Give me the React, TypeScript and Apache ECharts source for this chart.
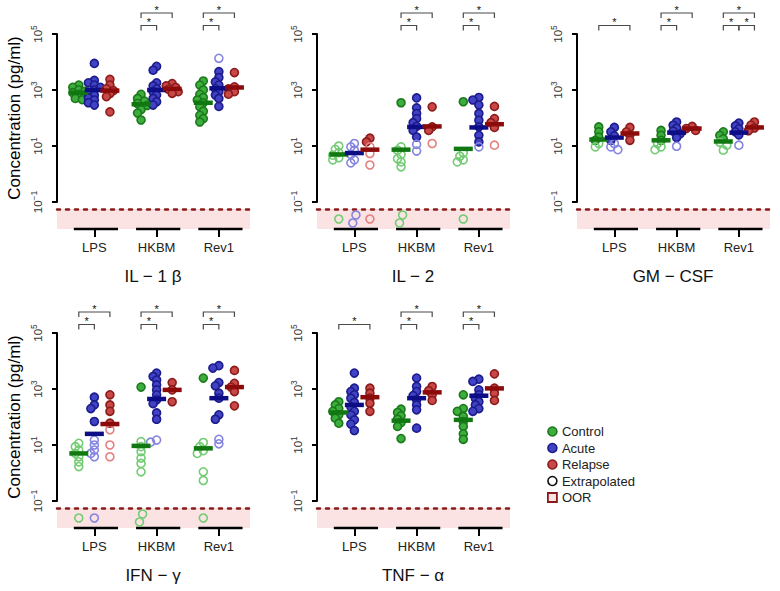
import React, { useEffect, useRef } from 'react';
import * as echarts from 'echarts';

// ---------- categories / labels ----------
const STIMULI = ['LPS', 'HKBM', 'Rev1'];
const GROUPS = ['Control', 'Acute', 'Relapse'];
const PANEL_TITLES = ['IL − 1 β', 'IL − 2', 'GM − CSF', 'IFN − γ', 'TNF − α'];
const Y_TICKS = [0.1, 10, 1000, 100000];
const Y_NAME = 'Concentration (pg/ml)';

// ---------- data (pg/ml), each array indexed by stimulus [LPS, HKBM, Rev1] ----------
// IL-1β
const IL1B_CONTROL = [[1500, 1250, 1000, 900, 800, 700, 650, 500, 450], [700, 500, 400, 330, 280, 200, 150, 85], [2100, 1500, 1000, 700, 540, 440, 350, 250, 175, 125, 95, 72]];
const IL1B_CONTROL_EXT = [[], [], []];
const IL1B_ACUTE = [[8900, 2200, 1800, 1500, 1250, 1000, 800, 650, 520, 440, 350, 290], [7000, 5100, 1800, 1400, 1100, 870, 660, 500, 380, 290], [4500, 2800, 1950, 1500, 1100, 870, 660, 500, 260]];
const IL1B_ACUTE_EXT = [[], [], [13500]];
const IL1B_RELAPSE = [[2400, 1500, 1100, 950, 750, 580, 165], [1700, 1400, 1230, 1050, 870, 760], [4200, 1300, 1100, 870, 710]];
const IL1B_RELAPSE_EXT = [[], [], []];
const IL1B_OOR = [[0, 0, 0], [0, 0, 0], [0, 0, 0]]; // [stim][group]
const IL1B_MEDIAN = [[800, 1000, 950], [310, 1000, 1100], [350, 1150, 1230]]; // [stim][group]
const IL1B_SIG = [[1, 0, 1, 0], [1, 0, 2, 1], [2, 0, 1, 0], [2, 0, 2, 1]]; // [stim, groupA, groupB, level]

// IL-2
const IL2_CONTROL = [[], [350], [380]];
const IL2_CONTROL_EXT = [[10, 7.6, 5.8, 4.7, 3.8, 3.2], [9.3, 7.1, 5, 3.5, 2.7, 1.8], [5.6, 4.3, 3.2, 2.7]];
const IL2_ACUTE = [[], [520, 230, 145, 95, 68, 50, 36, 21], [540, 440, 290, 145, 83, 48, 24, 14]];
const IL2_ACUTE_EXT = [[12.3, 9.3, 7.1, 5, 3.2, 2.5], [11.5, 6.6], [9.3]];
const IL2_RELAPSE = [[19, 14], [250, 48, 36], [260, 95, 68, 46]];
const IL2_RELAPSE_EXT = [[9.3, 5.4, 2.1], [12.3], [10.7]];
const IL2_OOR = [[1, 2, 1], [2, 0, 0], [1, 0, 0]];
const IL2_MEDIAN = [[5, 5.6, 7.4], [7.4, 48, 50], [7.9, 46, 60]];
const IL2_SIG = [[1, 0, 1, 0], [1, 0, 2, 1], [2, 0, 1, 0], [2, 0, 2, 1]];

// GM-CSF
const GMCSF_CONTROL = [[48, 32, 21, 16], [36, 24, 16], [32, 24, 18]];
const GMCSF_CONTROL_EXT = [[12.3, 9.3], [12.3, 9.3, 7.4], [13.5, 10.7, 7.1]];
const GMCSF_ACUTE = [[46, 32, 23, 16], [72, 55, 43, 34, 27, 20], [66, 52, 41, 32, 25]];
const GMCSF_ACUTE_EXT = [[12.3, 9.3, 7.4], [9.8], [10.7]];
const GMCSF_RELAPSE = [[46, 32, 25, 16], [50, 42, 36], [72, 56, 44, 35]];
const GMCSF_RELAPSE_EXT = [[], [], []];
const GMCSF_OOR = [[0, 0, 0], [0, 0, 0], [0, 0, 0]];
const GMCSF_MEDIAN = [[17, 20, 28], [16, 30, 42], [14.5, 30, 46]];
const GMCSF_SIG = [[0, 0, 2, 0], [1, 0, 1, 0], [1, 0, 2, 1], [2, 0, 1, 0], [2, 1, 2, 0], [2, 0, 2, 1]];

// IFN-γ
const IFNG_CONTROL = [[], [1170], [2450]];
const IFNG_CONTROL_EXT = [[11.5, 8.7, 6.6, 5, 3.8, 2.5, 1.7], [13.2, 8.7, 5.8, 3.4, 2.2, 1.1], [12.3, 8.7, 6.3, 5, 1.1, 0.54]];
const IFNG_ACUTE = [[510, 270, 200, 69], [3700, 2800, 2100, 1400, 930, 620, 410, 300, 140, 83], [6800, 5600, 1700, 1300, 710, 470, 120, 83]];
const IFNG_ACUTE_EXT = [[15, 10, 6.6, 5, 3.8], [15, 12.6], [16, 11]];
const IFNG_RELAPSE = [[620, 270, 160, 60], [1700, 930, 350], [4600, 1600, 1170, 810, 250]];
const IFNG_RELAPSE_EXT = [[35, 10, 3.8], [], []];
const IFNG_OOR = [[1, 1, 0], [2, 0, 0], [1, 0, 0]];
const IFNG_MEDIAN = [[5, 25, 56], [9.3, 440, 930], [7.6, 470, 1170]];
const IFNG_SIG = [[0, 0, 1, 0], [0, 0, 2, 1], [1, 0, 1, 0], [1, 0, 2, 1], [2, 0, 1, 0], [2, 0, 2, 1]];

// TNF-α
const TNF_CONTROL = [[350, 270, 200, 160, 120, 91, 60], [190, 145, 110, 83, 63, 46, 17], [620, 200, 160, 105, 69, 46, 25, 16]];
const TNF_CONTROL_EXT = [[], [], []];
const TNF_ACUTE = [[3700, 1070, 810, 620, 470, 330, 230, 160, 120, 79, 56, 33], [2450, 1230, 810, 580, 410, 270, 180, 40], [2240, 1860, 930, 620, 470, 350, 270, 200, 160]];
const TNF_ACUTE_EXT = [[], [], []];
const TNF_RELAPSE = [[1070, 710, 470, 310, 160], [1230, 870, 620, 390], [3470, 1070, 710, 390]];
const TNF_RELAPSE_EXT = [[], [], []];
const TNF_OOR = [[0, 0, 0], [0, 0, 0], [0, 0, 0]];
const TNF_MEDIAN = [[145, 270, 510], [74, 470, 760], [79, 575, 1050]];
const TNF_SIG = [[0, 0, 2, 0], [1, 0, 1, 0], [1, 0, 2, 1], [2, 0, 1, 0], [2, 0, 2, 1]];

const PANELS = [
  { title: PANEL_TITLES[0], filled: [IL1B_CONTROL, IL1B_ACUTE, IL1B_RELAPSE], ext: [IL1B_CONTROL_EXT, IL1B_ACUTE_EXT, IL1B_RELAPSE_EXT], oor: IL1B_OOR, median: IL1B_MEDIAN, sig: IL1B_SIG },
  { title: PANEL_TITLES[1], filled: [IL2_CONTROL, IL2_ACUTE, IL2_RELAPSE], ext: [IL2_CONTROL_EXT, IL2_ACUTE_EXT, IL2_RELAPSE_EXT], oor: IL2_OOR, median: IL2_MEDIAN, sig: IL2_SIG },
  { title: PANEL_TITLES[2], filled: [GMCSF_CONTROL, GMCSF_ACUTE, GMCSF_RELAPSE], ext: [GMCSF_CONTROL_EXT, GMCSF_ACUTE_EXT, GMCSF_RELAPSE_EXT], oor: GMCSF_OOR, median: GMCSF_MEDIAN, sig: GMCSF_SIG },
  { title: PANEL_TITLES[3], filled: [IFNG_CONTROL, IFNG_ACUTE, IFNG_RELAPSE], ext: [IFNG_CONTROL_EXT, IFNG_ACUTE_EXT, IFNG_RELAPSE_EXT], oor: IFNG_OOR, median: IFNG_MEDIAN, sig: IFNG_SIG },
  { title: PANEL_TITLES[4], filled: [TNF_CONTROL, TNF_ACUTE, TNF_RELAPSE], ext: [TNF_CONTROL_EXT, TNF_ACUTE_EXT, TNF_RELAPSE_EXT], oor: TNF_OOR, median: TNF_MEDIAN, sig: TNF_SIG },
];

// ---------- layout / style ----------
const PANEL_LEFT = [57, 317, 577, 57, 317];
const PANEL_TOP = [34, 34, 34, 333, 333];
const PANEL_W = 193;
const MAIN_H = 168;
const OOR_GAP = 175;
const OOR_H = 20;
const X_MIN = -0.6;
const X_MAX = 2.5;
const GROUP_OFFSET = [-0.25, 0, 0.25];
const PX_PER_UNIT = PANEL_W / (X_MAX - X_MIN);
const PX_PER_DECADE = MAIN_H / 6;
const FONT = '"Liberation Sans", Arial, Helvetica, sans-serif';

const GROUP_STYLE = [
  { fill: '#3dae3d', edge: '#1b7a1b', open: '#74cc74', bar: '#117711' },
  { fill: '#4242c4', edge: '#1c1c8c', open: '#8686e0', bar: '#0d0d85' },
  { fill: '#c84848', edge: '#8c1c1c', open: '#e48282', bar: '#8b0b0b' },
];
const OOR_FILL = '#fbe3e3';
const OOR_LINE = '#8b1a1a';
const BRACKET_COLOR = '#4a4a4a';

// simple beeswarm layout: horizontal offsets (axis units) so circles do not pile up
function swarmOffsets(vals: number[]): number[] {
  const order = vals.map((_, i) => i).sort((a, b) => vals[b] - vals[a]);
  const placed: { x: number; y: number }[] = [];
  const out = new Array(vals.length).fill(0);
  const cands = [0, -3.5, 3.5, -6, 6];
  for (const i of order) {
    const y = Math.log10(vals[i]) * PX_PER_DECADE;
    let best = cands[0];
    let bestD = -1;
    for (const c of cands) {
      const d = placed.reduce((m, p) => Math.min(m, Math.hypot(p.x - c, p.y - y)), Infinity);
      if (d >= 4.5) { best = c; bestD = d; break; }
      if (d > bestD) { bestD = d; best = c; }
    }
    placed.push({ x: best, y });
    out[i] = best / PX_PER_UNIT;
  }
  return out;
}

function buildOption(): any {
  const grid: any[] = [];
  const xAxis: any[] = [];
  const yAxis: any[] = [];
  const series: any[] = [];
  const graphic: any[] = [];

  PANELS.forEach((pd, pi) => {
    const L = PANEL_LEFT[pi];
    const T = PANEL_TOP[pi];
    const gMain = pi * 2;
    const gOor = pi * 2 + 1;
    const xMain = pi * 3;
    const xBot = pi * 3 + 2;
    const yMain = pi * 2;
    const yOor = pi * 2 + 1;

    grid.push({ left: L, top: T, width: PANEL_W, height: MAIN_H });
    grid.push({ left: L, top: T + OOR_GAP, width: PANEL_W, height: OOR_H, show: true, backgroundColor: OOR_FILL, borderWidth: 0, borderColor: 'transparent' });

    xAxis.push({ gridIndex: gMain, type: 'value', min: X_MIN, max: X_MAX, show: false });
    xAxis.push({
      gridIndex: gOor, type: 'value', position: 'top', min: X_MIN, max: X_MAX,
      axisLine: { show: true, onZero: false, lineStyle: { color: OOR_LINE, width: 2.5, type: [3, 6] } },
      axisTick: { show: false }, axisLabel: { show: false }, splitLine: { show: false },
    });
    xAxis.push({
      gridIndex: gOor, type: 'value', position: 'bottom', min: X_MIN, max: X_MAX,
      axisLine: { show: false, onZero: false },
      axisTick: { show: true, customValues: [0, 1, 2], length: 8, lineStyle: { color: '#000', width: 2 } },
      axisLabel: { show: true, customValues: [0, 1, 2], formatter: (v: number) => STIMULI[Math.round(v)] ?? '', margin: 12, fontSize: 13, color: '#222', fontFamily: FONT },
      splitLine: { show: false },
    });

    yAxis.push({
      gridIndex: gMain, type: 'log', logBase: 10, min: 0.1, max: 100000,
      axisLine: { show: true, onZero: false, lineStyle: { color: '#000', width: 2 } },
      axisTick: { show: true, customValues: Y_TICKS, length: 5, lineStyle: { color: '#000', width: 2 } },
      axisLabel: {
        show: true, customValues: Y_TICKS, rotate: 90, margin: 13,
        formatter: (v: number) => {
          const e = Math.round(Math.log10(v));
          return `{b|10}{s|${e < 0 ? '−' + -e : e}}`;
        },
        rich: {
          b: { fontSize: 11.5, color: '#333', fontFamily: FONT, lineHeight: 15, verticalAlign: 'bottom' },
          s: { fontSize: 8.5, color: '#333', fontFamily: FONT, lineHeight: 15, verticalAlign: 'top' },
        },
      },
      splitLine: { show: false },
      name: pi % 3 === 0 ? Y_NAME : '',
      nameLocation: 'middle', nameGap: 34,
      nameTextStyle: { fontSize: 17, color: '#000', fontFamily: FONT },
    });
    yAxis.push({ gridIndex: gOor, type: 'value', min: 0, max: 1, show: false });

    for (let g = 0; g < 3; g++) {
      const st = GROUP_STYLE[g];
      const filledData: number[][] = [];
      const openData: number[][] = [];
      const oorData: number[][] = [];
      const medData: number[][] = [];
      for (let s = 0; s < 3; s++) {
        const f = pd.filled[g][s] as number[];
        const e = pd.ext[g][s] as number[];
        const offs = swarmOffsets([...f, ...e]);
        const cx = s + GROUP_OFFSET[g];
        f.forEach((v, i) => filledData.push([cx + offs[i], v]));
        e.forEach((v, i) => openData.push([cx + offs[f.length + i], v]));
        medData.push([cx, pd.median[s][g]]);
        const n = pd.oor[s][g];
        for (let k = 0; k < n; k++) {
          const d = k - (n - 1) / 2;
          oorData.push([cx + d * 0.05, 0.5 + d * 0.4]);
        }
      }
      series.push({
        type: 'scatter', name: GROUPS[g], xAxisIndex: xMain, yAxisIndex: yMain, data: filledData,
        symbol: 'circle', symbolSize: 8, z: 3,
        itemStyle: { color: st.fill, borderColor: st.edge, borderWidth: 1.6, opacity: 1 },
      });
      series.push({
        type: 'scatter', name: 'Extrapolated', xAxisIndex: xMain, yAxisIndex: yMain, data: openData,
        symbol: 'circle', symbolSize: 8, z: 3,
        itemStyle: { color: 'rgba(255,255,255,0)', borderColor: st.open, borderWidth: 1.6, opacity: 1 },
      });
      series.push({
        type: 'scatter', name: GROUPS[g] + ' median', xAxisIndex: xMain, yAxisIndex: yMain, data: medData,
        symbol: 'rect', symbolSize: [19, 4.5], z: 5, silent: true,
        itemStyle: { color: st.bar, opacity: 1 },
      });
      series.push({
        type: 'scatter', name: 'OOR', xAxisIndex: xBot, yAxisIndex: yOor, data: oorData,
        symbol: 'circle', symbolSize: 8, z: 3,
        itemStyle: { color: 'rgba(255,255,255,0)', borderColor: st.open, borderWidth: 1.6, opacity: 1 },
      });
    }

    // significance brackets
    series.push({
      type: 'custom', name: 'Significance', xAxisIndex: xMain, yAxisIndex: yMain, clip: false, silent: true, z: 2,
      encode: { x: 0, y: 1 },
      itemStyle: { color: BRACKET_COLOR },
      data: pd.sig.map(([s, a, b, l]) => [s, 100000, a, b, l]),
      renderItem: (_: any, api: any) => {
        const s = api.value(0);
        const a = api.value(2);
        const b = api.value(3);
        const l = api.value(4);
        const pa = api.coord([s + GROUP_OFFSET[a], 100000]);
        const pb = api.coord([s + GROUP_OFFSET[b], 100000]);
        const y = pa[1] - (l === 0 ? 8.5 : 21);
        return {
          type: 'group',
          children: [
            { type: 'polyline', shape: { points: [[pa[0], y + 5], [pa[0], y], [pb[0], y], [pb[0], y + 5]] }, style: { stroke: BRACKET_COLOR, lineWidth: 1.2, fill: null } },
            { type: 'text', x: (pa[0] + pb[0]) / 2, y: y + 2, style: { text: '*', fill: '#111', fontSize: 11, fontFamily: FONT, align: 'center', verticalAlign: 'bottom' } },
          ],
        };
      },
    });

    // category axis segments
    series.push({
      type: 'custom', name: 'Stimulus axis', xAxisIndex: xBot, yAxisIndex: yOor, clip: false, silent: true, z: 2,
      itemStyle: { color: '#000' },
      data: STIMULI.map((_, i) => [i, 0]),
      renderItem: (_: any, api: any) => {
        const c = api.value(0);
        const p1 = api.coord([c - 0.33, 0]);
        const p2 = api.coord([c + 0.38, 0]);
        return { type: 'line', shape: { x1: p1[0], y1: p1[1], x2: p2[0], y2: p2[1] }, style: { stroke: '#000', lineWidth: 2.5 } };
      },
    });

    graphic.push({
      type: 'text', x: L + 96, y: T + 242,
      style: { text: pd.title, fill: '#111', font: `17px ${FONT}`, textAlign: 'center', textVerticalAlign: 'middle', align: 'center', verticalAlign: 'middle' },
    });
  });

  return {
    animation: false,
    backgroundColor: '#fff',
    textStyle: { fontFamily: FONT },
    grid, xAxis, yAxis, series, graphic,
    legend: {
      orient: 'vertical', left: 542, top: 420, itemWidth: 9, itemHeight: 9, itemGap: 3.5,
      textStyle: { fontSize: 13, color: '#222', fontFamily: FONT, lineHeight: 13 },
      data: [
        { name: 'Control', icon: 'circle', itemStyle: { color: GROUP_STYLE[0].fill, borderColor: GROUP_STYLE[0].edge, borderWidth: 1.6 } },
        { name: 'Acute', icon: 'circle', itemStyle: { color: GROUP_STYLE[1].fill, borderColor: GROUP_STYLE[1].edge, borderWidth: 1.6 } },
        { name: 'Relapse', icon: 'circle', itemStyle: { color: GROUP_STYLE[2].fill, borderColor: GROUP_STYLE[2].edge, borderWidth: 1.6 } },
        { name: 'Extrapolated', icon: 'circle', itemStyle: { color: '#fff', borderColor: '#111', borderWidth: 1.6 } },
        { name: 'OOR', icon: 'rect', itemStyle: { color: OOR_FILL, borderColor: OOR_LINE, borderWidth: 1.8 } },
      ],
    },
  };
}

export default function App() {
  const ref = useRef<HTMLDivElement>(null);
  useEffect(() => {
    if (!ref.current) return;
    const chart = echarts.init(ref.current, undefined, { renderer: 'svg' });
    chart.setOption(buildOption());
    return () => chart.dispose();
  }, []);
  return <div ref={ref} style={{ position: 'fixed', left: 0, top: 0, width: 780, height: 591 }} />;
}
